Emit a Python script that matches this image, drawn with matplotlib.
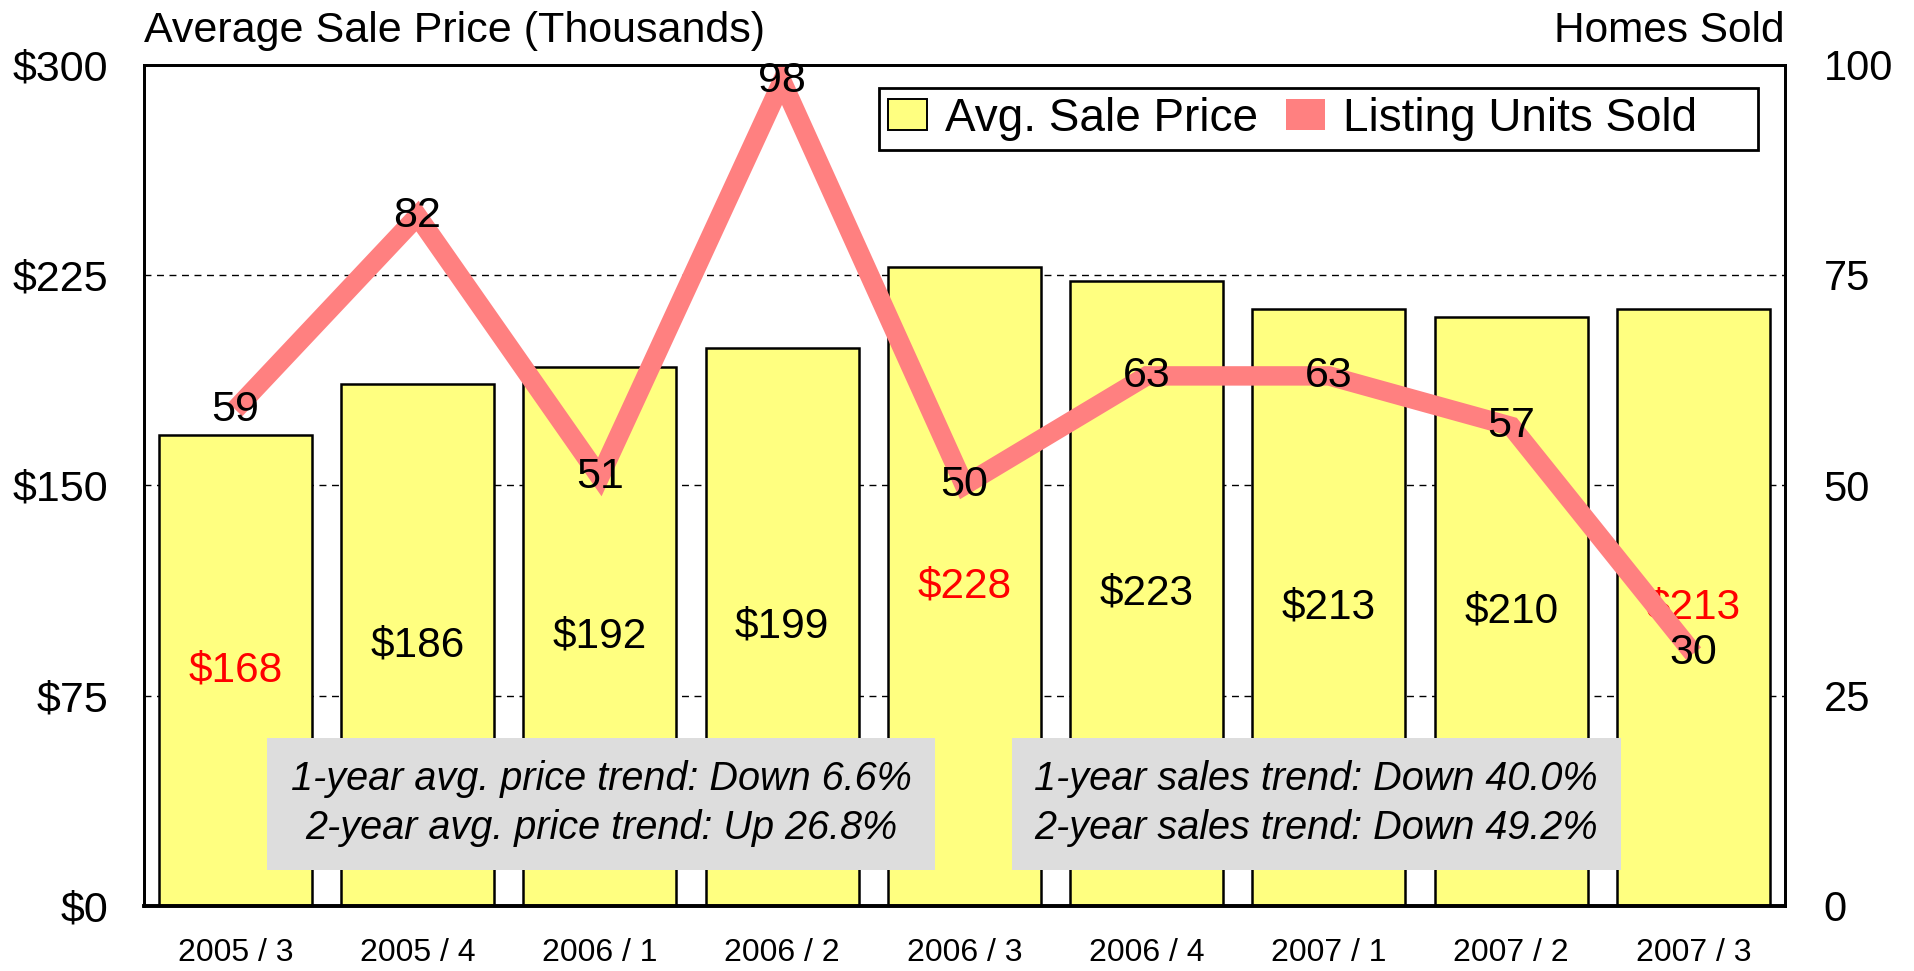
import numpy as np
import matplotlib
matplotlib.use('Agg')
import matplotlib.pyplot as plt
from matplotlib.patches import Patch, Rectangle

plt.rcParams['font.family'] = ['Liberation Sans', 'DejaVu Sans']

quarters = ['2005 / 3', '2005 / 4', '2006 / 1', '2006 / 2', '2006 / 3',
            '2006 / 4', '2007 / 1', '2007 / 2', '2007 / 3']
avg_price = [168, 186, 192, 199, 228, 223, 213, 210, 213]
units_sold = [59, 82, 51, 98, 50, 63, 63, 57, 30]

price_ticks = [0, 75, 150, 225, 300]
units_ticks = [0, 25, 50, 75, 100]

price_notes = ['1-year avg. price trend: Down 6.6%',
               '2-year avg. price trend: Up 26.8%']
sales_notes = ['1-year sales trend: Down 40.0%',
               '2-year sales trend: Down 49.2%']

BAR_COLOR = '#FFFF80'
LINE_COLOR = '#FF8080'

# lowest, highest and latest price get a red label
highlight = {int(np.argmin(avg_price)), int(np.argmax(avg_price)), len(avg_price) - 1}

fig = plt.figure(figsize=(19.14, 9.71), dpi=100)
ax = fig.add_axes([0.0753, 0.0671, 0.9324 - 0.0753, 0.9334 - 0.0671])
ax2 = ax.twinx()

x = np.arange(len(quarters))

# bars on the left (price) axis
ax.set_axisbelow(True)
bars = ax.bar(x, avg_price, width=0.84, color=BAR_COLOR, edgecolor='black',
              linewidth=1.8, zorder=2)
for i, (b, v) in enumerate(zip(bars, avg_price)):
    ax.text(b.get_x() + b.get_width() / 2, v / 2, '${}'.format(v),
            ha='center', va='center', fontsize=30.5,
            color='red' if i in highlight else 'black', zorder=3)

ax.set_xlim(-0.5, len(quarters) - 0.5)
ax.set_ylim(price_ticks[0], price_ticks[-1])
ax.set_yticks(price_ticks)
ax.set_yticklabels(['${}'.format(t) for t in price_ticks])
ax.set_xticks(x)
ax.set_xticklabels(quarters)
ax.tick_params(axis='y', length=0, pad=26, labelsize=31)
ax.tick_params(axis='x', length=0, pad=23.5, labelsize=23)
for t in price_ticks[1:-1]:
    ax.axhline(t, color='black', linestyle=(0, (5, 4)), linewidth=1.0, zorder=1)

# line on the right (units) axis
ax2.plot(x, units_sold, color=LINE_COLOR, linewidth=14, solid_joinstyle='miter',
         solid_capstyle='butt', zorder=2)
for xi, v in zip(x, units_sold):
    ax2.text(xi, v, str(v), ha='center', va='center', fontsize=31, zorder=3)
ax2.set_ylim(units_ticks[0], units_ticks[-1])
ax2.set_yticks(units_ticks)
ax2.tick_params(axis='y', length=0, pad=28, labelsize=30)

for a in (ax, ax2):
    for s in a.spines.values():
        s.set_linewidth(2)
    a.spines['bottom'].set_linewidth(2.6)

# trend boxes
for cx, w, lines in [(0.2785, 0.407, price_notes), (0.7145, 0.371, sales_notes)]:
    ax2.add_patch(Rectangle((cx - w / 2, 0.043), w, 0.157, transform=ax2.transAxes,
                            facecolor='#DDDDDD', edgecolor='none', zorder=4))
    ax2.text(cx, 0.1215, '\n'.join(lines), transform=ax2.transAxes,
             ha='center', va='center', fontsize=28.5, style='italic',
             linespacing=1.36, zorder=5)

# the reference legend has extra room after the last label
handles = [Patch(facecolor=BAR_COLOR, edgecolor='black', linewidth=1.4),
           Patch(facecolor=LINE_COLOR, edgecolor='none')]
leg = ax2.legend(handles, ['Avg. Sale Price', 'Listing Units Sold    '], ncol=2,
                 loc='upper right', bbox_to_anchor=(0.9835, 0.9727),
                 fontsize=33, fancybox=False, framealpha=1, edgecolor='black',
                 borderpad=0.2, handlelength=0.85, handleheight=0.65,
                 handletextpad=0.4, columnspacing=0.6, borderaxespad=0)
leg.get_frame().set_linewidth(2)
leg.set_zorder(10)

ax.text(0, 1.04, 'Average Sale Price (Thousands)', transform=ax.transAxes,
        ha='left', va='center', fontsize=31)
ax.text(1, 1.04, 'Homes Sold', transform=ax.transAxes,
        ha='right', va='center', fontsize=30.5)

plt.savefig('out.png', dpi=100)
